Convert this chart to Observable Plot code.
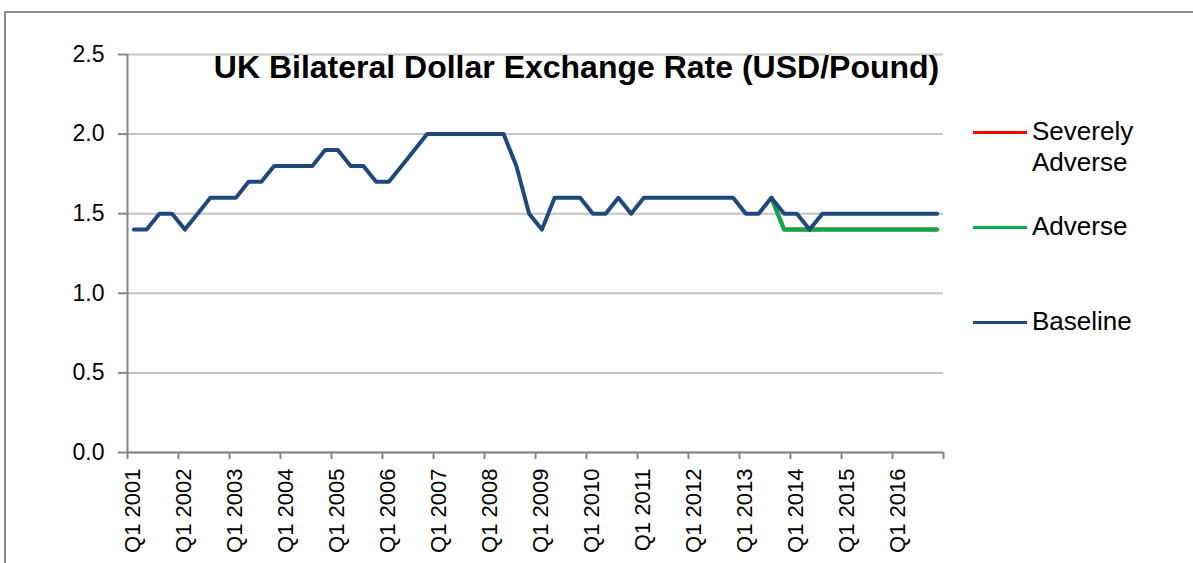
<!DOCTYPE html>
<html><head><meta charset="utf-8">
<script src="https://cdn.jsdelivr.net/npm/d3@7"></script>
<script src="https://cdn.jsdelivr.net/npm/@observablehq/plot@0.6"></script>
<style>
html,body{margin:0;padding:0;background:#fff;}
body{width:1193px;height:563px;overflow:hidden;position:relative;font-family:"Liberation Sans",Arial,sans-serif;color:#000;}
#frame{position:absolute;left:4px;top:11px;width:1300px;height:700px;border-top:2px solid #8c8c8c;border-left:2px solid #8c8c8c;}
#chart{position:absolute;left:0;top:0;}
#title{position:absolute;left:0;width:1153px;text-align:center;top:51px;font-size:32px;font-weight:bold;line-height:32px;white-space:nowrap;}
.leg{position:absolute;left:0;top:0;}
.legtext{position:absolute;left:1032px;font-size:26px;line-height:31px;white-space:nowrap;}
.legline{position:absolute;left:973px;width:54px;height:3px;}
</style></head><body>
<div id="frame"></div>
<div id="chart"></div>
<div id="title">UK Bilateral Dollar Exchange Rate (USD/Pound)</div>
<div id="legend"></div>
<script>
// Categories: quarters Q1 2001 .. Q4 2016
const years = [2001,2002,2003,2004,2005,2006,2007,2008,2009,2010,2011,2012,2013,2014,2015,2016];
const quarterNames = ["Q1","Q2","Q3","Q4"];
const quarters = years.flatMap(y => quarterNames.map(q => `${q} ${y}`));

// Baseline (all 64 quarters)
const baseline = [
  1.4,1.4,1.5,1.5,  // 2001
  1.4,1.5,1.6,1.6,  // 2002
  1.6,1.7,1.7,1.8,  // 2003
  1.8,1.8,1.8,1.9,  // 2004
  1.9,1.8,1.8,1.7,  // 2005
  1.7,1.8,1.9,2.0,  // 2006
  2.0,2.0,2.0,2.0,  // 2007
  2.0,2.0,1.8,1.5,  // 2008
  1.4,1.6,1.6,1.6,  // 2009
  1.5,1.5,1.6,1.5,  // 2010
  1.6,1.6,1.6,1.6,  // 2011
  1.6,1.6,1.6,1.6,  // 2012
  1.5,1.5,1.6,1.5,  // 2013
  1.5,1.4,1.5,1.5,  // 2014
  1.5,1.5,1.5,1.5,  // 2015
  1.5,1.5,1.5,1.5   // 2016
];
// Scenario series start at Q3 2013
const scenarioStart = "Q3 2013";
const adverse = [1.6, 1.4,1.4,1.4,1.4,1.4,1.4,1.4,1.4,1.4,1.4,1.4,1.4,1.4];
const severelyAdverse = [1.6, 1.4,1.4,1.4,1.4,1.4,1.4,1.4,1.4,1.4,1.4,1.4,1.4,1.4];

const seriesNames = ["Severely Adverse","Adverse","Baseline"];
const seriesColors = ["#FF0000","#00B050","#1F497D"];

const yTicks = [0,0.5,1.0,1.5,2.0,2.5];
const xTickLabels = ["Q1 2001","Q1 2002","Q1 2003","Q1 2004","Q1 2005","Q1 2006","Q1 2007","Q1 2008",
  "Q1 2009","Q1 2010","Q1 2011","Q1 2012","Q1 2013","Q1 2014","Q1 2015","Q1 2016"];

// Build tables
const startIdx = quarters.indexOf(scenarioStart);
const rows = [];
severelyAdverse.forEach((v,i) => rows.push({series:"Severely Adverse", q: startIdx+i, v}));
adverse.forEach((v,i) => rows.push({series:"Adverse", q: startIdx+i, v}));
baseline.forEach((v,i) => rows.push({series:"Baseline", q: i, v}));
const tickPos = xTickLabels.map(l => quarters.indexOf(l)).concat([quarters.length]);
const labelRows = xTickLabels.map(l => ({label:l, pos: quarters.indexOf(l)}));

const chart = Plot.plot({
  width: 1193, height: 563,
  marginLeft: 127, marginRight: 250, marginTop: 54, marginBottom: 111,
  x: {type: "linear", domain: [0, quarters.length], axis: null},
  y: {domain: [0, 2.5], axis: null},
  style: {fontFamily: "'Liberation Sans', Arial, sans-serif", background: "transparent", overflow: "visible"},
  marks: [
    Plot.gridY(yTicks, {stroke: "#c4c4c4", strokeOpacity: 1, strokeWidth: 2}),
    Plot.axisY(yTicks, {tickSize: 9, tickPadding: 14, tickFormat: d => d.toFixed(1), fontSize: 23,
      stroke: "#868686", strokeWidth: 2, fill: "#000", label: null}),
    Plot.axisX(tickPos, {tickSize: 7, tickFormat: () => "", stroke: "#868686", strokeWidth: 2, label: null}),
    Plot.ruleX([0], {stroke: "#868686", strokeWidth: 2}),
    Plot.ruleY([0], {stroke: "#868686", strokeWidth: 2}),
    Plot.text(labelRows, {x: "pos", text: "label", frameAnchor: "bottom", rotate: -90,
      textAnchor: "end", lineAnchor: "middle", dy: 16, dx: 5, fontSize: 22, fill: "#000"}),
    ...seriesNames.map((s, k) => Plot.line(rows.filter(r => r.series === s), {
      x: r => r.q + 0.5, y: "v", stroke: seriesColors[k], strokeWidth: 4,
      strokeLinejoin: "round", strokeLinecap: "round"}))
  ]
});
document.getElementById("chart").appendChild(chart);

// Legend
const legendLayout = [
  {lineY: 131, textTop: 116, lines: ["Severely", "Adverse"]},
  {lineY: 226, textTop: 211, lines: ["Adverse"]},
  {lineY: 321, textTop: 306, lines: ["Baseline"]}
];
const leg = document.getElementById("legend");
seriesNames.forEach((s, k) => {
  const L = legendLayout[k];
  const ln = document.createElement("div");
  ln.className = "legline";
  ln.style.top = L.lineY + "px";
  ln.style.background = seriesColors[k];
  leg.appendChild(ln);
  const t = document.createElement("div");
  t.className = "legtext";
  t.style.top = L.textTop + "px";
  t.innerHTML = L.lines.join("<br>");
  leg.appendChild(t);
});
</script>
</body></html>
